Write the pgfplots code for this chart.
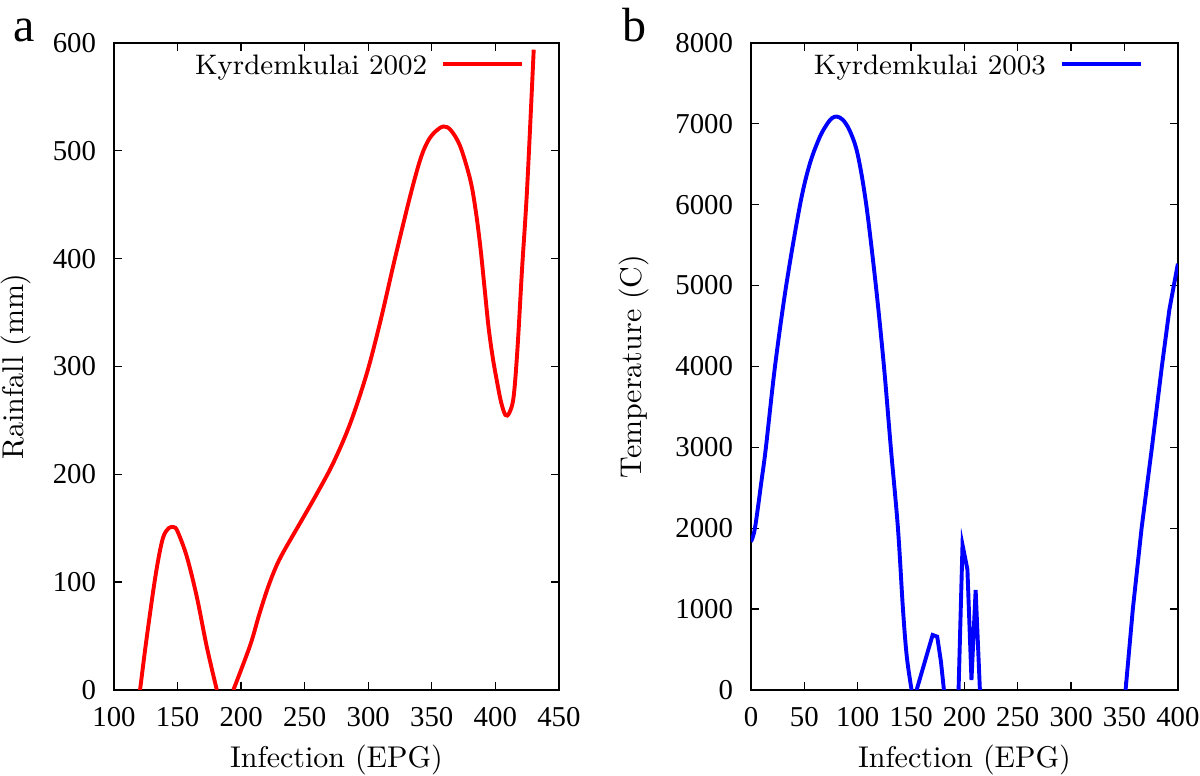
\documentclass[border=0pt]{standalone}
\usepackage{fontspec}
\usepackage{pgfplots}
\pgfplotsset{compat=1.18}
\newfontfamily\timesf{Liberation Serif}

\pgfplotsset{
  epg/.style={
    scale only axis, height=215.7pt,
    ymin=0,
    tick align=inside, major tick length=2.7pt,
    axis line style={line width=0.45pt},
    every tick/.style={black, line width=0.45pt},
    /pgf/number format/assume math mode=true,
    /pgf/number format/1000 sep={},
    scaled y ticks=false,
    tick label style={font=\timesf\fontsize{9.6}{11}\selectfont},
    xticklabel style={inner sep=0pt, anchor=north, yshift=-5.7pt},
    yticklabel style={inner sep=0pt, anchor=east, xshift=-5.8pt},
    label style={font=\fontsize{9.4}{11}\selectfont},
    every axis x label/.style={at={(axis description cs:0.5,-0.1205)}, anchor=base},
    xlabel={Infection (EPG)},
    unbounded coords=jump,
    legend plot pos=right,
    legend image code/.code={\draw[##1] (0pt,1pt) -- (26.5pt,1pt);},
    legend style={draw=none, fill=none, inner sep=0pt, column sep=2.6pt,
      font=\fontsize{9.4}{11}\selectfont, anchor=north east},
  }
}

\begin{document}
\begin{tikzpicture}
\path[use as bounding box] (-38pt,-28.67pt) rectangle (362pt,230pt);

\begin{axis}[epg, at={(0pt,0pt)}, anchor=south west,
  width=148.3pt, xmin=100, xmax=450, ymax=600,
  xtick={100,150,...,450}, ytick={0,100,...,600},
  ylabel={Rainfall (mm)},
  every axis y label/.style={at={(axis description cs:-0.2045,0.5)}, rotate=90, anchor=base},
  legend style={at={(axis description cs:0.9236,0.991)}}]
\addplot[red, line width=1.3pt, smooth, tension=0.55] coordinates {
  (120.5,0) (125,42) (131,93) (135,122) (138.8,142) (143,150) (147,151) (150,147)
  (157.2,124) (165.1,86.6) (173,40) (180.9,0)
  (187,nan)
  (193.9,0) (207,41) (214,69) (220.5,93) (227,113) (233.3,128) (246.5,155) (259.6,182)
  (272.7,211) (285.8,247) (299,294) (310,344) (321,400) (333,458)
  (341,492) (347,509) (353,518) (359.3,522.5) (365,519) (372.4,504) (380.3,473)
  (384.5,445) (388.2,411) (391.5,373) (394.7,336) (398,308) (401.3,286)
  (404.5,267) (407.9,255) (411,257) (414.4,272) (417.5,318) (421,390)
  (425,465) (430.2,593.7)
};
\addlegendentry{Kyrdemkulai 2002}
\end{axis}

\begin{axis}[epg, at={(212.33pt,0pt)}, anchor=south west,
  width=142.3pt, xmin=0, xmax=400, ymax=8000,
  xtick={0,50,...,400}, ytick={0,1000,...,8000},
  ylabel={Temperature (C)},
  every axis y label/.style={at={(axis description cs:-0.2576,0.5)}, rotate=90, anchor=base},
  legend style={at={(axis description cs:0.920,0.991)}}]
\addplot[blue, line width=1.3pt, smooth, tension=0.55] coordinates {
  (0,1834) (3.7,2000) (10,2600) (14,3000) (22.5,4000) (33,5000) (46,6000)
  (55,6500) (64.6,6840) (72,7010) (76,7070) (80.3,7089) (86,7050) (92.7,6910)
  (100,6620) (108,6000) (117,5000) (124.6,4000) (131,3000) (137.7,2000)
  (142.4,1000) (146,412) (150.5,0)
};
\addlegendentry{Kyrdemkulai 2003}
\addplot[blue, line width=1.3pt, forget plot] coordinates {
  (155.2,0) (166.1,495) (170.2,680) (174.5,659) (178,350) (180.8,0)
  (188,nan)
  (194.5,0) (198.2,1793) (202.8,1490) (206.6,124) (210.5,1236) (214.5,0)
  (280,nan)
  (351,0) (357.8,1000) (366,2000) (375.7,3000) (385,4000) (392,4700) (400,5270)
};
\end{axis}

\node[anchor=base west, inner sep=0pt, font=\timesf\fontsize{16}{16}\selectfont] at (-33.6pt,216.2pt) {a};
\node[anchor=base west, inner sep=0pt, font=\timesf\fontsize{16}{16}\selectfont] at (169.2pt,216.2pt) {b};
\end{tikzpicture}
\end{document}
